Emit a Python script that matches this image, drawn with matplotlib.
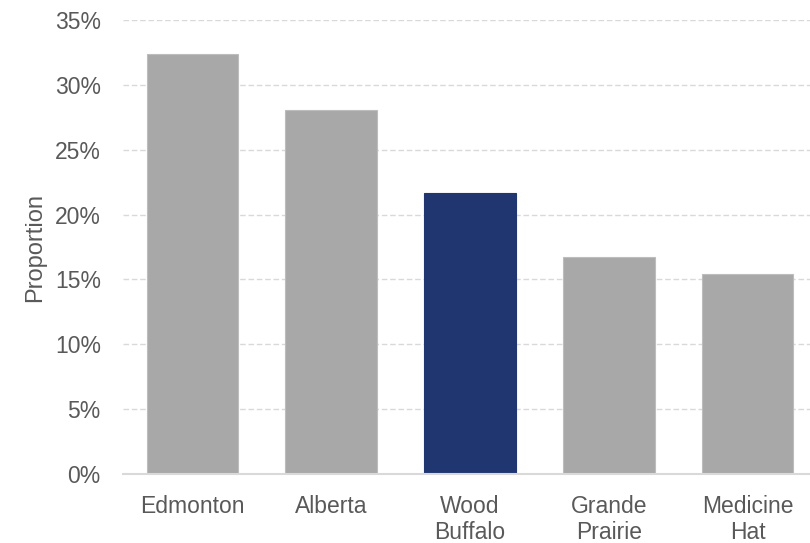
import numpy as np
import matplotlib
matplotlib.use("Agg")
import matplotlib.pyplot as plt
from matplotlib.ticker import PercentFormatter

plt.rcParams['font.family'] = ['Liberation Sans', 'DejaVu Sans']

places = ["Edmonton", "Alberta", "Wood\nBuffalo", "Grande\nPrairie", "Medicine\nHat"]
proportion = [0.324, 0.281, 0.217, 0.167, 0.154]
highlight = "Wood\nBuffalo"

text_col = "#595959"
grid_col = "#D9D9D9"

fig = plt.figure(figsize=(8.1, 5.43), dpi=100)
ax = fig.add_axes([123 / 810, 69 / 543, 687 / 810, 454 / 543])

colors = ["#1F3671" if p == highlight else "#A8A8A8" for p in places]
edges = ["#1F3671" if p == highlight else "#BDBDBD" for p in places]
x = np.arange(len(places))
ax.bar(x, proportion, width=0.66, color=colors, edgecolor=edges, linewidth=0.8, zorder=3)

ax.set_xlim(-0.5, 4.45)
ax.set_ylim(0, 0.35)
ax.set_yticks(np.arange(0, 0.351, 0.05))
ax.yaxis.set_major_formatter(PercentFormatter(1.0, decimals=0))
ax.set_xticks(x)
ax.set_xticklabels(places)

ax.grid(axis="y", color=grid_col, linestyle=(0, (4, 2)), linewidth=1.0, zorder=0)
for s in ["top", "right", "left"]:
    ax.spines[s].set_visible(False)
ax.spines["bottom"].set_color(grid_col)
ax.spines["bottom"].set_linewidth(1.5)
ax.spines["bottom"].set_zorder(4)

ax.tick_params(axis="y", length=0, pad=16, labelsize=16.5, labelcolor=text_col)
ax.tick_params(axis="x", length=0, pad=15, labelsize=16.5, labelcolor=text_col)
ax.set_ylabel("Proportion", fontsize=17, color=text_col, labelpad=6)

fig.savefig("out.png", dpi=100)
